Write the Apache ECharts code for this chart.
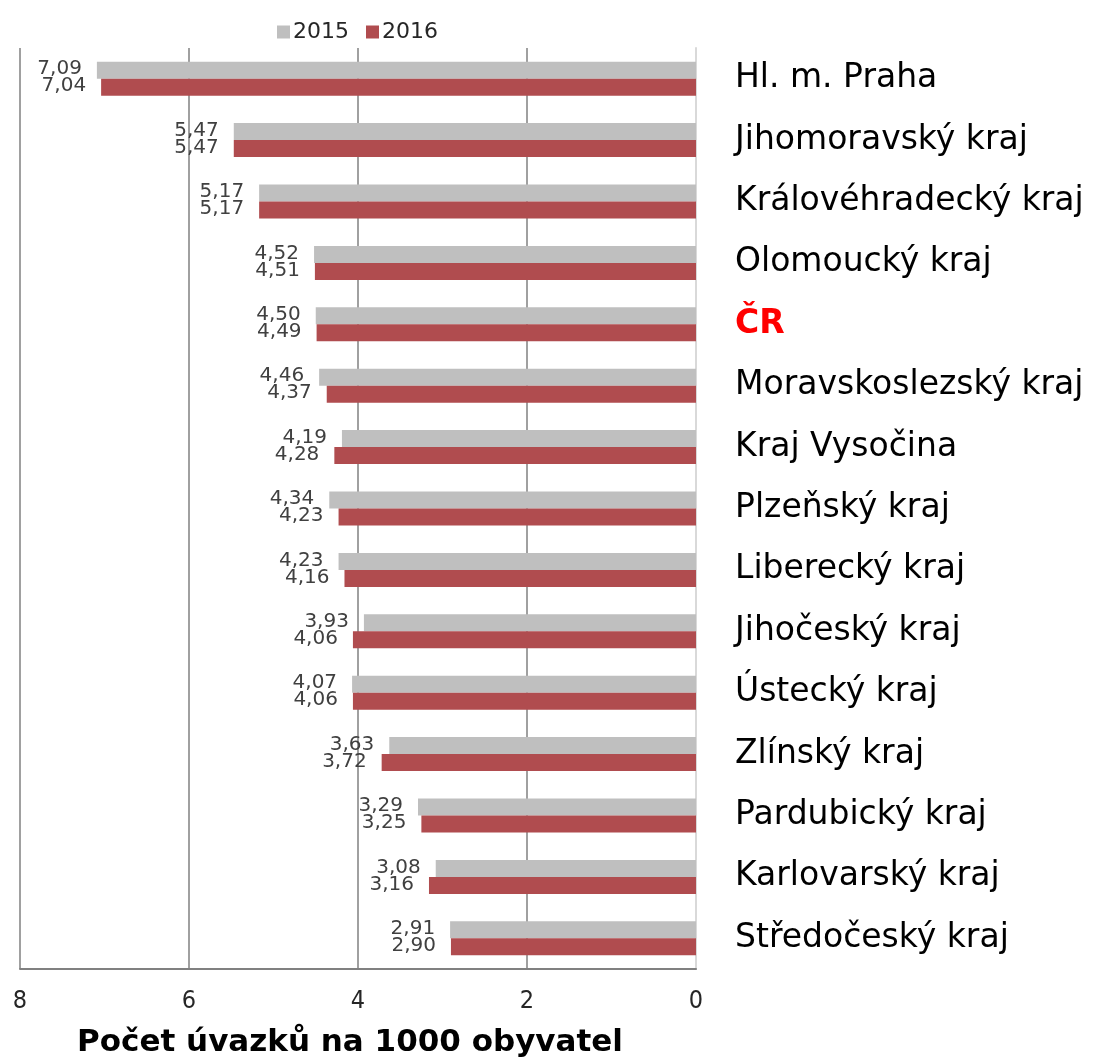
<!DOCTYPE html>
<html>
<head>
<meta charset="utf-8">
<script src="https://cdn.jsdelivr.net/npm/echarts@6/dist/echarts.min.js"></script>
<style>
  html, body { margin: 0; padding: 0; background: #fff; }
  #chart { width: 1093px; height: 1061px; }
</style>
</head>
<body>
<div id="chart"></div>
<script>
// Regions, top to bottom
const regions = [
  'Hl. m. Praha', 'Jihomoravský kraj', 'Královéhradecký kraj', 'Olomoucký kraj',
  'ČR', 'Moravskoslezský kraj', 'Kraj Vysočina', 'Plzeňský kraj',
  'Liberecký kraj', 'Jihočeský kraj', 'Ústecký kraj', 'Zlínský kraj',
  'Pardubický kraj', 'Karlovarský kraj', 'Středočeský kraj'
];
const values2015 = [7.09, 5.47, 5.17, 4.52, 4.50, 4.46, 4.19, 4.34, 4.23, 3.93, 4.07, 3.63, 3.29, 3.08, 2.91];
const values2016 = [7.04, 5.47, 5.17, 4.51, 4.49, 4.37, 4.28, 4.23, 4.16, 4.06, 4.06, 3.72, 3.25, 3.16, 2.90];
const seriesNames = ['2015', '2016'];
const xTicks = [0, 2, 4, 6, 8];

const fmt = v => v.toFixed(2).replace('.', ',');
const sans = '"DejaVu Sans", sans-serif';
const cond = '"DejaVu Sans Condensed", "DejaVu Sans", sans-serif';

const chart = echarts.init(document.getElementById('chart'));
const barLabel = (dy) => ({
  show: true,
  position: 'left',
  distance: 15,
  offset: [0, dy],
  color: '#404040',
  fontFamily: sans,
  fontSize: 20,
  formatter: p => fmt(p.value)
});

chart.setOption({
  animation: false,
  color: ['#BFBFBF', '#B04C4F'],
  legend: {
    data: seriesNames,
    top: 16,
    left: 272,
    itemWidth: 13,
    itemHeight: 13,
    itemGap: 17,
    icon: 'rect',
    textStyle: { fontFamily: sans, fontSize: 22, color: '#262626', padding: [0, 0, 0, -2] }
  },
  grid: { left: 20, right: 397, top: 48, bottom: 92, containLabel: false, outerBoundsMode: 'none' },
  xAxis: {
    type: 'value',
    inverse: true,
    min: 0,
    max: 8,
    interval: 2,
    name: 'Počet úvazků na 1000 obyvatel',
    nameLocation: 'middle',
    nameGap: 58,
    nameTextStyle: { fontFamily: sans, fontWeight: 'bold', fontSize: 31, color: '#000', padding: [0, 16, 0, 0] },
    axisLine: { show: true, lineStyle: { color: '#808080', width: 2 } },
    axisTick: { show: false },
    axisLabel: {
      margin: 20,
      fontFamily: cond,
      fontSize: 25,
      color: '#262626',
      formatter: v => xTicks.includes(v) ? String(v) : ''
    },
    splitLine: { show: true, lineStyle: { color: '#808080', width: 1.5 } }
  },
  yAxis: {
    type: 'category',
    data: regions,
    inverse: true,
    position: 'right',
    axisLine: { show: true, lineStyle: { color: '#D9D9D9', width: 2 } },
    axisTick: { show: false },
    axisLabel: {
      margin: 39,
      align: 'left',
      fontFamily: sans,
      fontSize: 33,
      color: '#000',
      formatter: v => v === 'ČR' ? '{cr|' + v + '}' : v,
      rich: {
        cr: { color: '#FF0000', fontWeight: 'bold', fontSize: 33, fontFamily: sans }
      }
    }
  },
  series: [
    {
      name: seriesNames[0],
      type: 'bar',
      data: values2015,
      barWidth: 17,
      barGap: '0%',
      label: barLabel(-1)
    },
    {
      name: seriesNames[1],
      type: 'bar',
      data: values2016,
      barWidth: 17,
      barGap: '0%',
      label: barLabel(-1)
    }
  ]
});
</script>
</body>
</html>
